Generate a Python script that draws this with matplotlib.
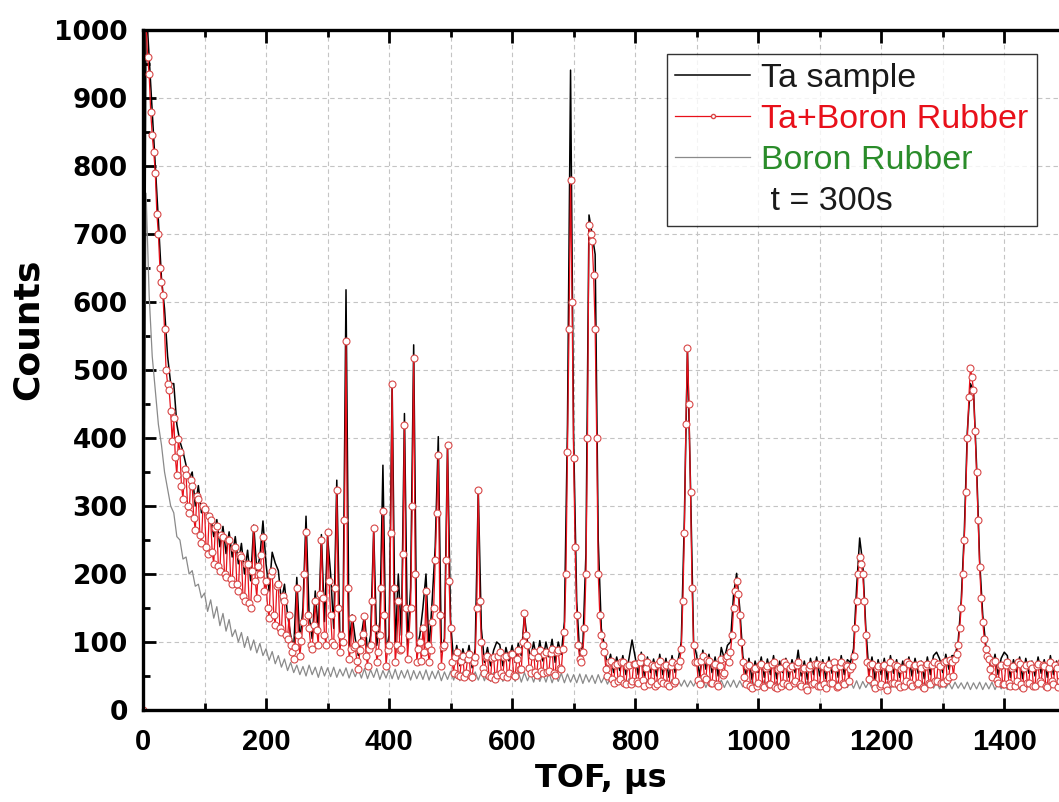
import numpy as np
import matplotlib.pyplot as plt
from matplotlib.lines import Line2D
from matplotlib.ticker import MultipleLocator

plt.rcParams['font.family'] = ['Liberation Sans', 'DejaVu Sans']

# TOF bins (us): 5 us step for Ta sample / Boron Rubber, 2.5 us for Ta+Boron Rubber
tof = np.arange(0, 1500, 5)
tof_fine = np.arange(0, 1500, 2.5)

# Ta sample counts
ta_sample = [
    0, 1040, 960, 880, 800, 720, 635, 590, 520, 480,
    480, 420, 395, 380, 360, 340, 350, 300, 330, 290,
    300, 290, 285, 255, 280, 240, 270, 230, 262, 225,
    255, 215, 245, 200, 235, 190, 272, 205, 225, 278,
    215, 175, 232, 216, 205, 160, 185, 140, 110, 90,
    195, 100, 150, 285, 140, 105, 175, 115, 258, 130,
    255, 200, 120, 338, 110, 115, 618, 95, 140, 105,
    80, 110, 140, 85, 110, 265, 95, 130, 360, 85,
    110, 478, 90, 200, 110, 436, 95, 180, 537, 90,
    110, 150, 200, 90, 160, 240, 402, 85, 105, 388,
    130, 70, 95, 65, 90, 70, 95, 62, 90, 323,
    120, 70, 92, 65, 88, 100, 96, 65, 92, 72,
    95, 70, 98, 80, 140, 100, 75, 100, 72, 102,
    72, 100, 78, 104, 70, 100, 82, 130, 420, 941,
    400, 160, 80, 95, 230, 728, 700, 670, 250, 120,
    95, 62, 82, 55, 78, 58, 80, 52, 76, 103,
    78, 52, 85, 50, 78, 55, 75, 50, 82, 52,
    76, 48, 80, 55, 74, 100, 280, 530, 330, 100,
    80, 50, 88, 60, 82, 55, 78, 50, 92, 75,
    95, 100, 170, 201, 150, 80, 50, 76, 45, 72,
    55, 78, 48, 75, 52, 80, 46, 72, 55, 76,
    48, 74, 55, 88, 50, 72, 45, 76, 52, 78,
    50, 74, 46, 78, 54, 72, 48, 80, 52, 74,
    70, 90, 180, 253, 215, 120, 55, 78, 45, 74,
    52, 76, 45, 80, 54, 74, 48, 72, 56, 78,
    50, 76, 54, 72, 46, 78, 52, 80, 85, 75,
    55, 82, 60, 80, 80, 100, 160, 260, 410, 480,
    470, 360, 220, 140, 95, 80, 60, 82, 52, 76,
    85, 80, 48, 74, 56, 78, 46, 76, 54, 72,
    50, 78, 54, 74, 48, 80, 52, 72, 56, 76,
]

# Ta + Boron Rubber counts (2.5 us bins)
ta_boron = [
    0, 1020, 1010, 960, 935, 880, 845, 820, 790, 730, 700, 650, 630, 610, 560, 500, 480, 470, 440, 395,
    430, 372, 345, 398, 380, 330, 310, 355, 345, 300, 290, 338, 330, 282, 265, 315, 310, 258, 245, 300,
    295, 240, 230, 285, 280, 232, 215, 268, 270, 212, 205, 258, 255, 200, 195, 250, 250, 192, 185, 238,
    240, 185, 175, 228, 225, 168, 160, 215, 215, 158, 150, 205, 268, 190, 165, 212, 200, 228, 255, 175,
    190, 150, 135, 198, 205, 140, 125, 182, 185, 120, 115, 168, 160, 110, 105, 140, 95, 85, 75, 92,
    180, 110, 80, 102, 130, 200, 262, 140, 120, 95, 90, 125, 160, 118, 95, 170, 250, 165, 110, 95,
    262, 190, 140, 100, 95, 180, 324, 150, 85, 110, 100, 280, 542, 180, 75, 90, 135, 92, 95, 72,
    60, 88, 100, 112, 138, 80, 65, 90, 95, 160, 268, 120, 70, 85, 110, 180, 292, 140, 65, 88,
    95, 260, 480, 180, 70, 95, 160, 88, 90, 230, 419, 150, 75, 110, 150, 300, 517, 200, 70, 90,
    100, 72, 120, 85, 175, 95, 70, 88, 130, 150, 220, 290, 375, 140, 65, 92, 95, 220, 390, 190,
    120, 70, 55, 78, 85, 52, 50, 72, 80, 48, 55, 75, 82, 50, 48, 70, 78, 150, 323, 160,
    100, 62, 55, 78, 80, 50, 48, 76, 78, 45, 52, 80, 85, 55, 50, 78, 80, 48, 55, 82,
    82, 52, 50, 75, 88, 60, 60, 100, 142, 110, 95, 62, 55, 80, 86, 56, 52, 78, 88, 58,
    55, 82, 85, 56, 58, 84, 90, 55, 52, 85, 88, 62, 60, 90, 115, 200, 380, 560, 780, 600,
    370, 240, 140, 95, 75, 70, 85, 120, 200, 400, 713, 700, 690, 640, 560, 400, 200, 140, 110, 95,
    85, 60, 50, 70, 72, 45, 40, 66, 68, 42, 45, 70, 70, 40, 38, 64, 66, 38, 42, 68,
    68, 42, 40, 70, 78, 44, 35, 62, 70, 38, 42, 66, 65, 36, 38, 68, 72, 42, 40, 64,
    66, 38, 35, 64, 70, 40, 42, 68, 64, 72, 90, 160, 260, 420, 532, 450, 320, 180, 95, 70,
    70, 44, 38, 72, 80, 48, 45, 74, 72, 40, 40, 66, 68, 38, 35, 64, 75, 52, 55, 76,
    80, 70, 85, 110, 150, 175, 190, 170, 140, 100, 70, 48, 38, 64, 66, 36, 32, 60, 62, 35,
    40, 66, 68, 36, 34, 62, 65, 38, 38, 68, 70, 34, 32, 60, 62, 36, 40, 70, 66, 38,
    35, 62, 64, 40, 42, 66, 70, 38, 36, 60, 62, 34, 30, 62, 66, 38, 40, 68, 68, 36,
    36, 66, 64, 38, 33, 62, 68, 40, 40, 70, 62, 34, 35, 64, 70, 40, 38, 66, 64, 42,
    60, 65, 80, 120, 160, 200, 225, 215, 200, 160, 110, 70, 45, 66, 68, 40, 32, 62, 64, 36,
    38, 64, 66, 36, 30, 62, 70, 40, 40, 66, 64, 38, 34, 60, 62, 36, 42, 70, 68, 40,
    36, 64, 66, 38, 40, 68, 62, 34, 32, 64, 68, 40, 38, 66, 70, 42, 42, 68, 65, 40,
    40, 70, 72, 44, 48, 74, 70, 50, 75, 82, 95, 120, 150, 200, 250, 320, 400, 460, 503, 490,
    470, 410, 350, 280, 210, 165, 130, 105, 90, 80, 75, 60, 48, 70, 72, 44, 40, 64, 66, 38,
    38, 66, 70, 40, 35, 62, 64, 36, 42, 70, 68, 38, 32, 62, 66, 40, 40, 68, 62, 36,
    36, 64, 68, 42, 40, 66, 64, 36, 34, 62, 70, 42, 38, 66, 62, 34, 42, 70, 66, 40,
]

# Boron Rubber counts
boron = [
    0, 760, 610, 520, 470, 420, 390, 350, 325, 300,
    290, 255, 250, 222, 225, 200, 205, 182, 185, 165,
    172, 145, 162, 135, 152, 124, 142, 116, 133, 108,
    118, 100, 114, 92, 108, 88, 103, 84, 98, 80,
    90, 73, 86, 68, 80, 63, 75, 58, 70, 55,
    66, 52, 64, 50, 66, 52, 63, 48, 64, 50,
    62, 49, 63, 48, 60, 50, 62, 47, 60, 49,
    60, 47, 61, 46, 59, 48, 61, 45, 58, 47,
    59, 46, 60, 45, 58, 47, 59, 44, 58, 46,
    57, 45, 59, 44, 57, 46, 58, 43, 56, 45,
    57, 44, 58, 43, 56, 45, 57, 42, 56, 44,
    56, 43, 57, 42, 55, 44, 56, 42, 55, 43,
    55, 42, 56, 41, 55, 43, 54, 41, 55, 42,
    54, 41, 55, 40, 53, 42, 54, 40, 53, 41,
    52, 40, 53, 39, 52, 41, 51, 39, 52, 40,
    49, 38, 48, 37, 47, 38, 46, 36, 46, 37,
    45, 36, 46, 35, 45, 36, 44, 35, 45, 36,
    44, 35, 45, 34, 44, 35, 44, 34, 43, 35,
    44, 34, 45, 33, 44, 35, 43, 34, 44, 33,
    43, 34, 44, 33, 43, 34, 43, 33, 44, 34,
    43, 33, 44, 32, 43, 34, 42, 33, 43, 32,
    42, 33, 43, 32, 42, 33, 43, 32, 42, 33,
    42, 32, 43, 33, 42, 32, 43, 31, 42, 33,
    42, 32, 43, 31, 42, 33, 41, 32, 42, 31,
    41, 32, 42, 31, 41, 32, 42, 31, 41, 32,
    41, 31, 42, 32, 41, 31, 42, 32, 41, 31,
    41, 32, 40, 31, 41, 32, 40, 31, 41, 30,
    40, 31, 41, 30, 40, 31, 41, 30, 40, 31,
    40, 30, 41, 31, 40, 30, 41, 31, 40, 30,
    40, 31, 40, 30, 41, 31, 40, 30, 41, 31,
]

fig = plt.figure(figsize=(10.59, 8.02), dpi=100)
ax = fig.add_axes([143 / 1059, 92 / 802, 1 - 143 / 1059, 680 / 802])

ax.plot(tof, boron, color="#8a8a8a", lw=0.9)
ax.plot(tof, ta_sample, color="black", lw=1.1)
ax.plot(tof_fine, ta_boron, color="#e8101a", lw=0.9, marker="o", ms=5,
        mfc="white", mec="#d84848", mew=0.8)

ax.set_xlim(0, 1489)
ax.set_ylim(0, 1000)
ax.xaxis.set_major_locator(MultipleLocator(200))
ax.xaxis.set_minor_locator(MultipleLocator(100))
ax.yaxis.set_major_locator(MultipleLocator(100))
ax.yaxis.set_minor_locator(MultipleLocator(50))
ax.tick_params(which="both", direction="in", top=True, right=False, width=2)
ax.tick_params(which="major", length=9)
ax.tick_params(which="minor", length=5)
ax.tick_params(axis="x", which="major", pad=13)
ax.tick_params(axis="y", which="major", pad=11)
for lab in ax.get_xticklabels():
    lab.set_fontweight("bold")
    lab.set_fontsize(21)
for lab in ax.get_yticklabels():
    lab.set_fontweight("bold")
    lab.set_fontsize(19)
    lab.set_family("DejaVu Sans")
for s in ["left", "bottom", "top"]:
    ax.spines[s].set_linewidth(2.4)
ax.spines["right"].set_visible(False)

ax.grid(True, which="both", axis="x", color="#c4c4c4", ls=(0, (4, 3)), lw=0.8)
ax.grid(True, which="major", axis="y", color="#c4c4c4", ls=(0, (4, 3)), lw=0.8)
ax.set_axisbelow(True)

ax.set_xlabel("TOF, μs", fontsize=23, fontweight="bold", family="DejaVu Sans", labelpad=5)
ax.set_ylabel("Counts", fontsize=26, fontweight="bold", family="DejaVu Sans")
ax.yaxis.set_label_coords(-0.107, 0.56)

handles = [
    Line2D([], [], color="black", lw=1.1),
    Line2D([], [], color="#e8101a", lw=0.9, marker="o", ms=3, mfc="white", mec="#d84848"),
    Line2D([], [], color="#8a8a8a", lw=0.9),
    Line2D([], [], color="none"),
]
labels = ["Ta sample", "Ta+Boron Rubber", "Boron Rubber", " t = 300s"]
leg = fig.legend(handles, labels, loc="upper right", bbox_to_anchor=(1037 / 1059, 1 - 54 / 802),
                 fontsize=24.5, frameon=True, fancybox=False, borderaxespad=0,
                 handlelength=2.18, handletextpad=0.33, labelspacing=0.30, borderpad=0.26)
leg.get_frame().set_edgecolor("black")
leg.get_frame().set_linewidth(1.0)
for txt, c in zip(leg.get_texts(), ["#1a1a1a", "#e8101a", "#2a8c2a", "#1a1a1a"]):
    txt.set_color(c)

fig.savefig("out.png", dpi=100)
